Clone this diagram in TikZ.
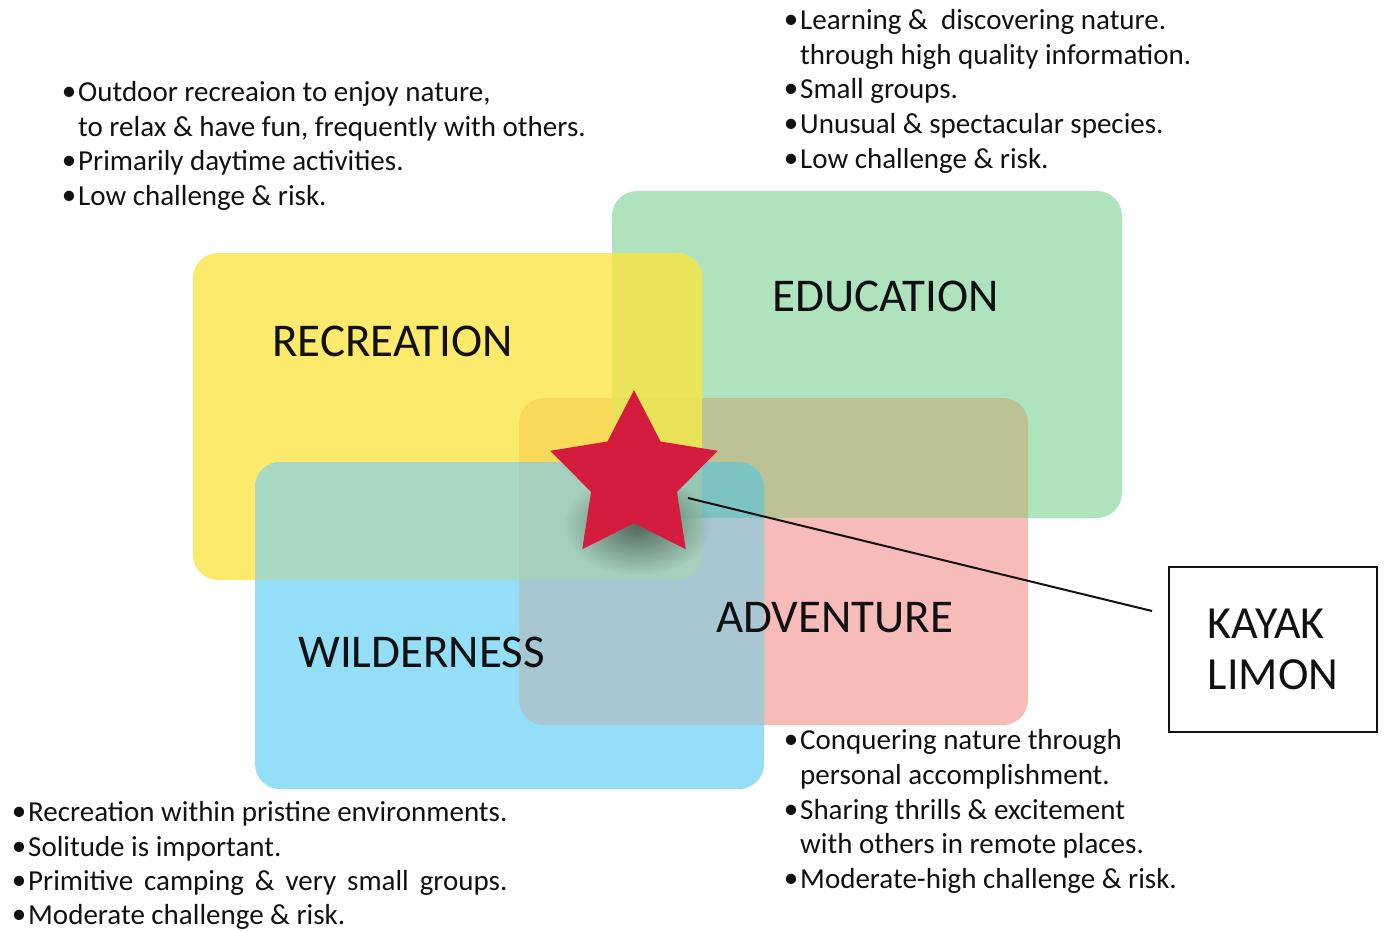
\documentclass[tikz,border=0pt]{standalone}
\usepackage{fontspec}
\setmainfont{Carlito}
\usetikzlibrary{shapes.geometric,fadings}

% plain zone colours
\definecolor{recfill}{RGB}{251,234,108}
\definecolor{edufill}{RGB}{174,227,190}
\definecolor{wildfill}{RGB}{149,222,248}
\definecolor{advfill}{RGB}{247,187,185}
% colours where zones overlap
\definecolor{recedu}{RGB}{234,228,90}
\definecolor{recadv}{RGB}{249,217,90}
\definecolor{recwild}{RGB}{169,216,195}
\definecolor{eduadv}{RGB}{188,194,147}
\definecolor{wildadv}{RGB}{169,199,211}
\definecolor{receduadv}{RGB}{232,226,88}
\definecolor{recwildadv}{RGB}{166,208,187}
\definecolor{eduwildadv}{RGB}{126,195,196}
\definecolor{allfour}{RGB}{150,200,180}
\definecolor{starred}{RGB}{212,28,62}
\definecolor{ink}{RGB}{17,17,17}

% zone outlines
\newcommand\zoneRec{(193,253) rectangle (702,580)}
\newcommand\zoneEdu{(612,191) rectangle (1122,518)}
\newcommand\zoneWild{(255,462) rectangle (764,789)}
\newcommand\zoneAdv{(519,398) rectangle (1028,725)}

\tikzfading[name=softspot, inner color=transparent!0, outer color=transparent!100]

\newlength\rowwd
\newcommand\bul{\llap{\raisebox{1pt}{\textbullet}\hspace{2pt}}}

\tikzset{
  zone/.style={rounded corners=25pt, draw=none},
  body/.style={anchor=base west, inner sep=0pt, text=ink,
    font=\fontsize{29}{34.6}\selectfont},
  zonelabel/.style={anchor=base west, inner sep=0pt, text=ink,
    font=\fontsize{47}{50}\selectfont},
}

\begin{document}
\begin{tikzpicture}[x=1pt, y=-1pt]
\useasboundingbox (0,0) rectangle (1386,930);

% the four zones
\fill[zone, advfill] \zoneAdv;
\fill[zone, edufill] \zoneEdu;
\fill[zone, recfill] \zoneRec;
\fill[zone, wildfill] \zoneWild;

% pairwise overlaps
\begin{scope}\clip[zone] \zoneRec; \fill[zone, recedu] \zoneEdu; \end{scope}
\begin{scope}\clip[zone] \zoneRec; \fill[zone, recadv] \zoneAdv; \end{scope}
\begin{scope}\clip[zone] \zoneRec; \fill[zone, recwild] \zoneWild; \end{scope}
\begin{scope}\clip[zone] \zoneEdu; \fill[zone, eduadv] \zoneAdv; \end{scope}
\begin{scope}\clip[zone] \zoneWild; \fill[zone, wildadv] \zoneAdv; \end{scope}
% triple overlaps
\begin{scope}\clip[zone] \zoneRec; \clip[zone] \zoneEdu; \fill[zone, receduadv] \zoneAdv; \end{scope}
\begin{scope}\clip[zone] \zoneRec; \clip[zone] \zoneWild; \fill[zone, recwildadv] \zoneAdv; \end{scope}
\begin{scope}\clip[zone] \zoneEdu; \clip[zone] \zoneWild; \fill[zone, eduwildadv] \zoneAdv; \end{scope}
\begin{scope}\clip[zone] \zoneEdu; \clip[zone] \zoneWild; \clip[zone] \zoneAdv; \fill[zone, allfour] \zoneRec; \end{scope}

% zone names
\node[zonelabel] (lrec) at (272,356) {RECREATION};
\node[zonelabel] (ledu) at (772,311) {EDUCATION};
\node[zonelabel] (ladv) at (716,632) {ADVENTURE};
\node[zonelabel] (lwild) at (298,667) {WILDERNESS};

% soft shadow under the star
\fill[black, fill opacity=0.5, path fading=softspot] (638,525) ellipse (74 and 50);

% the star where all four meet
\node[star, star points=5, star point ratio=1.95, minimum size=176pt,
      inner sep=0pt, draw=none, fill=starred] (star) at (634,478) {};

% callout box and its leader
\node[draw=ink, line width=2.7pt, minimum width=208pt, minimum height=165pt,
      inner sep=0pt, align=left, text=ink,
      font=\fontsize{46}{51}\selectfont] (kayak) at (1273,649.5) {KAYAK\\LIMON};
\coordinate (leadA) at (688,498);
\coordinate (leadB) at (1152,611);
\draw[ink, line width=2pt] (leadA) -- (leadB);

% recreation notes
\node[body] (r1) at (78,101) {\bul Outdoor recreaion to enjoy nature,};
\node[body] (r2) at (78,136) {to relax \& have fun, frequently with others.};
\node[body] (r3) at (78,170) {\bul Primarily daytime activities.};
\node[body] (r4) at (78,205) {\bul Low challenge \& risk.};

% education notes
\node[body] (e1) at (800,29) {\bul Learning \&\ \ discovering nature.};
\node[body] (e2) at (800,64) {through high quality information.};
\node[body] (e3) at (800,98) {\bul Small groups.};
\node[body] (e4) at (800,133) {\bul Unusual \& spectacular species.};
\node[body] (e5) at (800,168) {\bul Low challenge \& risk.};

% adventure notes
\node[body] (a1) at (800,749) {\bul Conquering nature through};
\node[body] (a2) at (800,784) {personal accomplishment.};
\node[body] (a3) at (800,819) {\bul Sharing thrills \& excitement};
\node[body] (a4) at (800,853) {with others in remote places.};
\node[body] (a5) at (800,888) {\bul Moderate-high challenge \& risk.};

% wilderness notes
\node[body] (w1) at (28,821) {\bul Recreation within pristine environments.};
\node[body] (w2) at (28,856) {\bul Solitude is important.};
\node[body] (w3) at (28,890) {\bul\settowidth{\rowwd}{Recreation within pristine environments.}%
  \makebox[\rowwd][s]{Primitive camping \& very small groups.}};
\node[body] (w4) at (28,924) {\bul Moderate challenge \& risk.};
\end{tikzpicture}
\end{document}
